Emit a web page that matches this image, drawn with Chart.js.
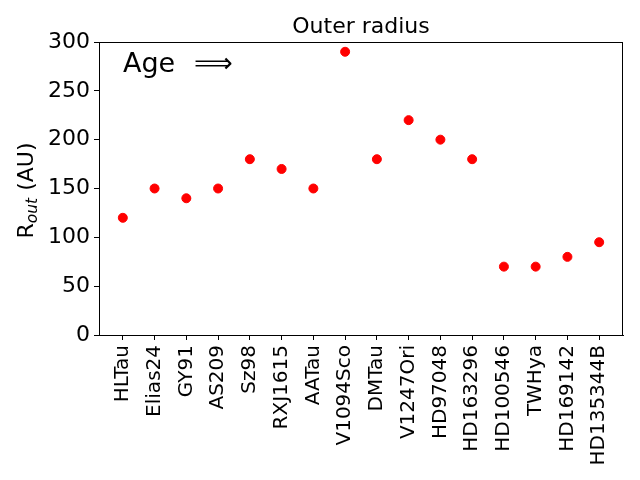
<!DOCTYPE html>
<html>
<head>
<meta charset="utf-8">
<script src="https://cdn.jsdelivr.net/npm/chart.js@4"></script>
<style>
  html, body { margin: 0; padding: 0; background: #fff; }
  #wrap { width: 640px; height: 480px; }
</style>
</head>
<body>
<div id="wrap"><canvas id="chart" width="640" height="480"></canvas></div>
<script>
const stars = ['HLTau', 'Elias24', 'GY91', 'AS209', 'Sz98', 'RXJ1615', 'AATau', 'V1094Sco',
  'DMTau', 'V1247Ori', 'HD97048', 'HD163296', 'HD100546', 'TWHya', 'HD169142', 'HD135344B']
const outerRadius = [120, 150, 140, 150, 180, 170, 150, 290, 180, 220, 200, 180, 70, 70, 80, 95]
const yTicks = [0, 50, 100, 150, 200, 250, 300]

const FONT = 'DejaVu Sans'

// box, title, y label with subscript and the "Age" note
const decorations = {
  id: 'decorations',
  afterDraw(chart) {
    const { ctx, chartArea: a } = chart
    ctx.save()
    ctx.strokeStyle = '#000'
    ctx.lineWidth = 1
    ctx.strokeRect(a.left + 0.5, a.top + 0.5, a.right - a.left - 1, a.bottom - a.top)

    ctx.fillStyle = '#000'
    ctx.textAlign = 'center'
    ctx.textBaseline = 'alphabetic'
    ctx.font = '22px ' + FONT
    ctx.fillText('Outer radius', (a.left + a.right) / 2, a.top - 9)

    ctx.textAlign = 'left'
    ctx.font = '27px ' + FONT
    ctx.fillText('Age', 123, 72)
    ctx.fillText('\u27F9', 194, 72)

    // y axis label, rotated
    ctx.translate(33, (a.top + a.bottom) / 2 + 2)
    ctx.rotate(-Math.PI / 2)
    const big = '22px ' + FONT
    const sub = 'italic 15.5px ' + FONT
    ctx.font = big
    const wR = ctx.measureText('R').width
    const wRest = ctx.measureText(' (AU)').width
    ctx.font = sub
    const wSub = ctx.measureText('out').width
    let x = -(wR + wSub + wRest) / 2
    ctx.font = big
    ctx.fillText('R', x, 0)
    x += wR
    ctx.font = sub
    ctx.fillText('out', x, 4)
    x += wSub
    ctx.font = big
    ctx.fillText(' (AU)', x, 0)
    ctx.restore()
  }
}

new Chart(document.getElementById('chart'), {
  type: 'scatter',
  data: {
    datasets: [{
      data: outerRadius.map((v, i) => ({ x: i, y: v })),
      backgroundColor: '#ff0000',
      borderColor: '#ff0000',
      pointRadius: 4.5,
      pointHoverRadius: 4.5
    }]
  },
  options: {
    responsive: false,
    animation: false,
    layout: { padding: { top: 42, right: 17, left: 0, bottom: 0 } },
    plugins: { legend: { display: false }, tooltip: { enabled: false } },
    scales: {
      x: {
        type: 'linear',
        min: -0.75,
        max: stars.length - 0.25,
        afterBuildTicks: s => { s.ticks = stars.map((_, i) => ({ value: i })) },
        afterFit: s => { s.height = 145 },
        ticks: {
          color: '#000',
          font: { family: FONT, size: 20 },
          maxRotation: 90,
          minRotation: 90,
          autoSkip: false,
          padding: 5,
          callback: v => stars[v]
        },
        grid: { drawOnChartArea: false, color: '#000', tickLength: 5 },
        border: { color: '#000' }
      },
      y: {
        min: 0,
        max: 300,
        afterBuildTicks: s => { s.ticks = yTicks.map(v => ({ value: v })) },
        afterFit: s => { s.width = 99 },
        ticks: {
          color: '#000',
          font: { family: FONT, size: 22 },
          padding: 4
        },
        grid: { drawOnChartArea: false, color: '#000', tickLength: 5 },
        border: { color: '#000' }
      }
    }
  },
  plugins: [decorations]
})
</script>
</body>
</html>
